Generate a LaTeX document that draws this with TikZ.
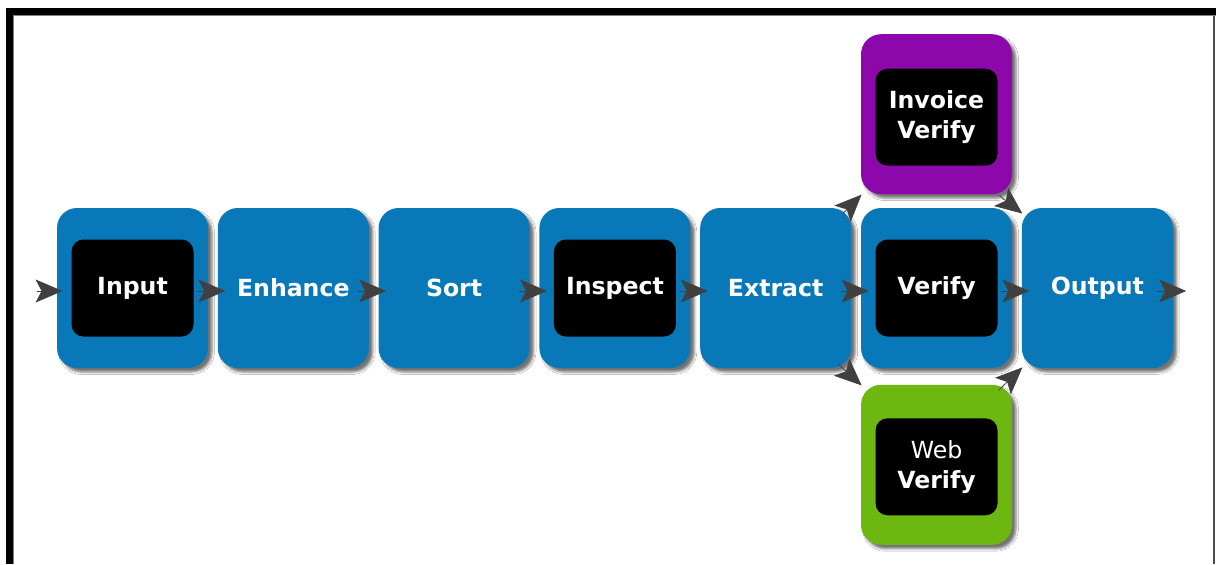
\documentclass[tikz,border=0pt]{standalone}
\usepackage{fontspec}
\setmainfont{DejaVu Sans}
\usetikzlibrary{positioning,arrows.meta,shadows.blur}

\definecolor{stageblue}{RGB}{8,120,184}
\definecolor{invpurple}{RGB}{140,8,170}
\definecolor{webgreen}{RGB}{108,184,16}
\definecolor{arrowgray}{RGB}{64,64,64}

\begin{document}
\begin{tikzpicture}[
        stage/.style={rounded corners=10pt,fill=stageblue,minimum width=75.5pt,minimum height=80pt,
            inner sep=0pt,text=white,font=\bfseries\fontsize{11.8pt}{15pt}\selectfont,
            blur shadow={shadow xshift=2pt,shadow yshift=-2pt,shadow blur radius=1.2pt,shadow opacity=55}},
        core/.style={rounded corners=6pt,fill=black,minimum width=61pt,minimum height=48.5pt,
            inner sep=0pt,align=center,text=white,font=\bfseries\fontsize{11.8pt}{15pt}\selectfont},
        flow/.style={-{Stealth[length=13.5pt,width=11.5pt,inset=3pt]},draw=arrowgray,line width=0.4pt}]
    \useasboundingbox (0,0) rectangle (608pt,282pt);
    % frame
    \fill[white] (0,0) rectangle (608pt,282pt);
    \fill[black] (3pt,0) rectangle (6.5pt,278pt);
    \fill[black] (3pt,274.5pt) rectangle (608pt,278pt);
    \draw[gray,line width=0.5pt] (6.9pt,0) -- (6.9pt,274.2pt) -- (608pt,274.2pt);
    \draw[black!70,line width=0.8pt] (607pt,0) -- (607pt,274.2pt);

    % main row
    \node[stage] (input) at (66.25pt,138pt) {};
    \foreach \prev/\name/\txt in {input/enhance/Enhance,enhance/sort/Sort,sort/inspect/,
            inspect/extract/Extract,extract/verify/,verify/output/Output}
        \node[stage,right=4.5pt of \prev] (\name) {\txt};
    \node[stage,fill=invpurple,above=6.5pt of verify] (invoice) {};
    \node[stage,fill=webgreen,below=8pt of verify] (web) {};

    \foreach \name/\txt in {input/Input,inspect/Inspect,verify/Verify}
        \node[core] (\name-core) at (\name) {\txt};
    \node[core] (invoice-core) at ([yshift=-1.5pt]invoice) {Invoice\\Verify};
    \node[core] (web-core) at ([yshift=-1pt]web) {{\mdseries Web}\\Verify};

    % arrows
    \coordinate (in) at ([shift={(-10pt,-1.5pt)}]input.west);
    \coordinate (out) at ([shift={(6.5pt,-1.5pt)}]output.east);
    \draw[flow] (in) -- ([shift={(3pt,-1.5pt)}]input.west);
    \foreach \a/\b in {input/enhance,enhance/sort,sort/inspect,inspect/extract,extract/verify,verify/output}
        \draw[flow] ([shift={(-5.5pt,-1.5pt)}]\a.east) -- ([shift={(4pt,-1.5pt)}]\b.west);
    \draw[flow] ([shift={(-8pt,-1.5pt)}]output.east) -- (out);
    \draw[flow] ([shift={(-4.5pt,-3pt)}]extract.north east) -- ([shift={(0.5pt,0pt)}]invoice.south west);
    \draw[flow] ([shift={(-6.5pt,-0.5pt)}]invoice.south east) -- ([shift={(0.5pt,-3pt)}]output.north west);
    \draw[flow] ([shift={(-6.5pt,2pt)}]extract.south east) -- ([shift={(0.5pt,-0.5pt)}]web.north west);
    \draw[flow] ([shift={(-7pt,-3pt)}]web.north east) -- ([shift={(0.5pt,0.5pt)}]output.south west);
\end{tikzpicture}
\end{document}
